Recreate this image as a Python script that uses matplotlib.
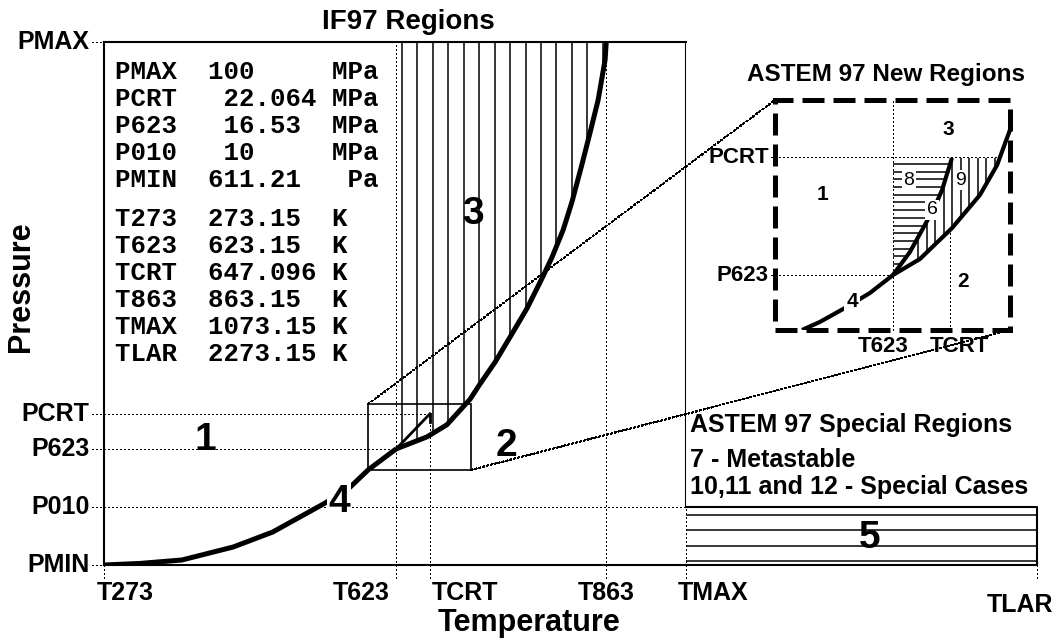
import numpy as np
import matplotlib
matplotlib.use("Agg")
import matplotlib.pyplot as plt
from matplotlib.patches import Rectangle, ConnectionPatch

# IF97 limits
p_names = ["PMAX", "PCRT", "P623", "P010", "PMIN"]
p_values = ["100", "22.064", "16.53", "10", "611.21"]
p_units = ["MPa", "MPa", "MPa", "MPa", "Pa"]
t_names = ["T273", "T623", "TCRT", "T863", "TMAX", "TLAR"]
t_values = ["273.15", "623.15", "647.096", "863.15", "1073.15", "2273.15"]

# where each limit sits on the schematic (0..100 spans PMIN..PMAX and T273..TMAX)
p_pos = [100, 28.9, 22.2, 11.1, 0]
t_pos = [0, 50.2, 56.0, 86.3, 100, 160.3]

# saturation line (region 4)
sat_t = [0, 6.2, 13.4, 22.2, 29.0, 38.0, 42.3, 45.4, 50.2]
sat_p = [0, 0.3, 0.96, 3.44, 6.31, 11.85, 14.9, 18.2, 22.2]
# B23 boundary (regions 2/3)
b23_t = [50.2, 55.5, 58.9, 62.9, 64.6, 67.2, 70.1, 72.7, 75.3, 77.0, 78.9,
         80.4, 82.1, 83.5, 84.9, 86.1, 86.3]
b23_p = [22.2, 24.5, 26.8, 31.7, 34.6, 38.8, 44.2, 49.1, 54.9, 58.9, 64.1,
         69.4, 76.5, 82.6, 88.9, 96.6, 100]

# zoomed window around the critical point (T range, P range)
zoom_t = [45.4, 63.1]
zoom_p = [18.2, 30.8]

# inset ("ASTEM 97 New Regions"), own schematic scale 0..100
in_t_pos = [50.2, 74.5]      # T623, TCRT
in_p_pos = [23.9, 75.2]      # P623, PCRT
in_sat_t = [11.5, 19.1, 29.8, 40.4, 50.2]
in_sat_p = [0, 3.5, 9.6, 16.1, 23.9]
in_satup_t = [50.2, 57.4, 63.8, 68.1, 71.1, 75.3]
in_satup_p = [23.9, 33.9, 45.7, 53.9, 60.9, 74.8]
in_b23_t = [50.2, 61.7, 75.3, 87.2, 94.5, 100]
in_b23_p = [23.9, 30.9, 44.3, 58.7, 71.7, 87]

W, H = 1058, 643


def px(x, y):
    return x / W, 1 - y / H


plt.rcParams['font.family'] = ['Liberation Sans', 'DejaVu Sans']
plt.rcParams['font.weight'] = 'bold'

fig = plt.figure(figsize=(W / 100, H / 100), dpi=100)
fig.patch.set_facecolor('white')
ax = fig.add_axes([104 / W, (H - 565) / H, (686 - 104) / W, (565 - 42) / H])
ax.set_xlim(0, 100)
ax.set_ylim(0, 100)
ax.set_xticks([])
ax.set_yticks([])
for s in ['top', 'left', 'bottom']:
    ax.spines[s].set_linewidth(1.5)
ax.spines['right'].set_visible(False)

P = dict(zip(p_names, p_pos))
T = dict(zip(t_names, t_pos))
dots = dict(color='k', lw=1.0, linestyle=(0, (1, 2)), clip_on=False, antialiased=False)

# right edge: solid above P010, dotted below
ax.plot([T["TMAX"], T["TMAX"]], [P["P010"], P["PMAX"]], color='k', lw=1.5)

# dotted guide lines
h_end = {"PMAX": 0, "PCRT": T["TCRT"], "P623": T["T623"], "P010": T["TMAX"], "PMIN": 0}
for n in p_names:
    ax.plot([-2.0, h_end[n]], [P[n], P[n]], **dots)
    ax.text(-2.5, P[n], n, ha='right', va='center', fontsize=18, clip_on=False)
v_end = {"T273": 0, "T623": P["PMAX"], "TCRT": P["PCRT"], "T863": P["PMAX"],
         "TMAX": P["P010"], "TLAR": 0}
for n in t_names:
    ax.plot([T[n], T[n]], [-2.4, v_end[n]], **dots)

t_lab = {"T273": (-1.2, 'left', -5.3), "T623": (49.0, 'right', -5.3),
         "TCRT": (56.4, 'left', -5.3), "T863": (86.3, 'center', -5.3),
         "TMAX": (98.6, 'left', -5.3), "TLAR": (163.1, 'right', -7.6)}
for n in t_names:
    x, ha, y = t_lab[n]
    ax.text(x, y, n, ha=ha, va='center', fontsize=18, clip_on=False)

# region 3 hatching
hx = np.linspace(51.2, 85.7, 14)
ax.vlines(hx, np.interp(hx, b23_t, b23_p), 100, color='k', lw=1.1)

# curves
ax.plot(sat_t, sat_p, color='k', lw=3.6, solid_capstyle='butt')
ax.plot(b23_t, b23_p, color='k', lw=3.6, solid_capstyle='butt')
ax.plot([T["T623"], T["TCRT"]], [P["P623"], P["PCRT"]], color='k', lw=2)
ax.plot([T["TCRT"], T["TCRT"]], [P["PCRT"], P["PCRT"] - 1.6], color='k', lw=2)

# zoom window
ax.add_patch(Rectangle((zoom_t[0], zoom_p[0]), zoom_t[1] - zoom_t[0],
                       zoom_p[1] - zoom_p[0], fill=False, lw=1.2, ec='k'))

# region 5
ax.plot([T["TMAX"], T["TLAR"], T["TLAR"], T["TMAX"]],
        [P["P010"], P["P010"], P["PMIN"], P["PMIN"]], color='k', lw=1.5, clip_on=False)
ax.hlines(np.linspace(0.76, 9.56, 4), T["TMAX"], T["TLAR"], color='k', lw=1.1, clip_on=False)

# table of limits
for i, n in enumerate(p_names):
    v = p_values[i]
    v = " " * (3 - len(v.split(".")[0])) + v
    ax.text(1.9, 94.2 - 5.16 * i, n + "  " + v.ljust(8) + p_units[i].rjust(3),
            family='Liberation Mono', fontsize=18.5, va='center', ha='left')
for i, n in enumerate(t_names):
    ax.text(1.9, 66.1 - 5.16 * i, n + "  " + t_values[i].ljust(7) + " K",
            family='Liberation Mono', fontsize=18.5, va='center', ha='left')

# region numbers
big = dict(fontsize=28, ha='center', va='center', clip_on=False)
ax.text(17.4, 23.9, "1", **big)
ax.text(69.1, 22.8, "2", **big)
ax.text(63.4, 67.1, "3", **big)
ax.text(40.4, 12.0, "4", bbox=dict(fc='white', ec='none', pad=0.5), **big)
ax.text(131.6, 5.2, "5", **big)

# special regions note
for y, s in zip([26.8, 20.1, 14.9], ["ASTEM 97 Special Regions", "7 - Metastable",
                                     "10,11 and 12 - Special Cases"]):
    ax.text(100.7, y, s, fontsize=18, ha='left', va='center', clip_on=False)

fig.text(*px(408, 22), "IF97 Regions", fontsize=20, ha='center', va='center')
fig.text(*px(21, 287), "Pressure", fontsize=22, rotation=90, ha='center', va='center')
fig.text(*px(529, 623), "Temperature", fontsize=22, ha='center', va='center')

# ---- inset
ins = fig.add_axes([775 / W, 1 - 330 / H, 235 / W, 230 / H])
ins.set_xlim(0, 100)
ins.set_ylim(0, 100)
ins.set_xticks([])
ins.set_yticks([])
for s in ins.spines.values():
    s.set_visible(False)
ins.patch.set_alpha(0)
ins.add_patch(Rectangle((0, 0), 1, 1, transform=ins.transAxes, fill=False, lw=3.6,
                        ec='k', linestyle=(0, (4.4, 1.8)), clip_on=False, zorder=5))

it623, itcrt = in_t_pos
ip623, ipcrt = in_p_pos
ins.plot([-1.5, np.interp(ipcrt, in_b23_p, in_b23_t)], [ipcrt, ipcrt], **dots)
ins.plot([-1.5, it623], [ip623, ip623], **dots)
ins.plot([it623, it623], [0, 100], **dots)
ins.plot([itcrt, itcrt], [0, np.interp(itcrt, in_b23_t, in_b23_p)], **dots)

# region 8 (horizontal) and 9 (vertical) hatching
hy = np.linspace(28.7, 72.2, 14)
ins.hlines(hy, it623, np.interp(hy, in_satup_p, in_satup_t), color='k', lw=1.1)
vx = np.linspace(60.9, 93.6, 10)
top = np.minimum(ipcrt, np.interp(vx, in_satup_t, in_satup_p))
bot = np.interp(vx, in_b23_t, in_b23_p)
ins.vlines(vx[top > bot], bot[top > bot], top[top > bot], color='k', lw=1.1)

ins.plot(in_sat_t, in_sat_p, color='k', lw=3, solid_capstyle='butt')
ins.plot(in_b23_t, in_b23_p, color='k', lw=3, solid_capstyle='butt', clip_on=False)
ins.plot(in_satup_t, in_satup_p, color='k', lw=3, solid_capstyle='butt')

small = dict(fontsize=15, ha='center', va='center')
ins.text(73.6, 87, "3", **small)
ins.text(20.4, 58.7, "1", **small)
ins.text(80, 20.9, "2", **small)
ins.text(32.8, 12.2, "4", bbox=dict(fc='white', ec='none', pad=1.5), **small)
wb = dict(fc='white', ec='none', pad=0.8)
thin = dict(fontsize=14, fontweight='normal', ha='center', va='center', bbox=wb)
ins.text(57.0, 65.2, "8", **thin)
ins.text(79.1, 65.2, "9", **thin)
ins.text(66.8, 52.2, "6", **thin)

ins.text(-2.6, ipcrt, "PCRT", fontsize=16, ha='right', va='center')
ins.text(-2.6, ip623, "P623", fontsize=16, ha='right', va='center')
ins.text(46, -7, "T623", fontsize=16, ha='center', va='center')
ins.text(78.3, -7, "TCRT", fontsize=16, ha='center', va='center')
ins.text(47.2, 110.9, "ASTEM 97 New Regions", fontsize=17.5, ha='center', va='center')

# zoom connectors
for a, b in [((zoom_t[0], zoom_p[1]), (0, 1)), ((zoom_t[1], zoom_p[0]), (1, 0))]:
    fig.add_artist(ConnectionPatch(xyA=a, coordsA=ax.transData, xyB=b,
                                   coordsB=ins.transAxes, color='k', lw=1.0,
                                   linestyle=(0, (1, 2)), antialiased=False))

fig.savefig("out.png", dpi=100, facecolor='white')
